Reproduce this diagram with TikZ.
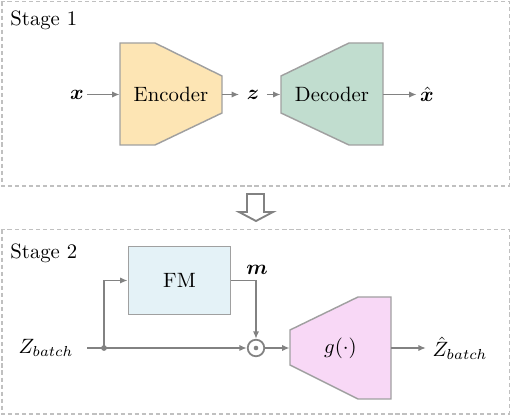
\documentclass[tikz,border=0pt]{standalone}
\usepackage{amsmath}
\usepackage{bm}
\usetikzlibrary{arrows.meta}

\definecolor{encfill}{RGB}{253,229,180}
\definecolor{decfill}{RGB}{193,221,207}
\definecolor{gfill}{RGB}{248,216,246}
\definecolor{fmfill}{RGB}{228,242,247}
\definecolor{edgegray}{RGB}{160,160,160}
\definecolor{wiregray}{RGB}{130,130,130}
\definecolor{dashgray}{RGB}{192,192,192}

\tikzset{
  wire/.style={draw=wiregray, line width=0.85pt},
  wirearrow/.style={wire, -{Latex[length=3.6pt,width=3pt]}},
  netshape/.style={draw=edgegray, line width=0.7pt},
  stagebox/.style={draw=dashgray, line width=0.6pt, dash pattern=on 2pt off 1.4pt},
  var/.style={inner sep=1.5pt},
  area/.style={inner sep=0pt, minimum width=49.2pt, minimum height=49.2pt}
}

\begin{document}
\begin{tikzpicture}[x=0.4824pt,y=0.4824pt,yscale=-1,xscale=1]
\useasboundingbox (0,0) rectangle (512,418);

%Shape: Stage boxes
\draw [stagebox] (2,1.5) rectangle (509.5,186);
\draw [stagebox] (2,229.5) rectangle (509.5,414);

% Text Node
\draw (10,26) node [anchor=base west, inner sep=0pt] {Stage 1};
% Text Node
\draw (10,258.5) node [anchor=base west, inner sep=0pt] {Stage 2};

%Shape: Encoder
\draw [netshape, fill=encfill] (120,43) -- (155,43) -- (222,76) -- (222,113) -- (155,145) -- (120,145) -- cycle;
%Shape: Decoder
\draw [netshape, fill=decfill] (281,76) -- (349,43) -- (383,43) -- (383,145) -- (349,145) -- (281,113) -- cycle;
%Shape: g
\draw [netshape, fill=gfill] (290,330) -- (358,297) -- (391,297) -- (391,399) -- (358,399) -- (290,365) -- cycle;

% Stage 1 nodes
\node [var] (x) at (77,94.5) {$\bm{x}$};
\node [area] (enc) at (171,94.5) {Encoder};
\node [inner sep=3.5pt] (z) at (253,94.5) {$\bm{z}$};
\node [area] (dec) at (332,94.5) {Decoder};
\node [var] (xhat) at (427,94.5) {$\hat{\bm{x}}$};

\draw [wirearrow] (x) -- (enc);
\draw [wirearrow] (enc) -- (z);
\draw [wirearrow] (z) -- (dec);
\draw [wirearrow] (dec) -- (xhat);

%Shape: hollow arrow between stages
\draw [draw=wiregray, line width=0.9pt, fill=white] (247,194) -- (264,194) -- (264,212) -- (273,212) -- (256,221) -- (239,212) -- (247,212) -- cycle;

% Stage 2 nodes
\node [inner xsep=6.5pt] (zb) at (46,348) {$Z_{batch}$};
\node [netshape, fill=fmfill, minimum width=49.4pt, minimum height=32.6pt] (fm) at (179.5,280.5) {FM};
\node [circle, wire, minimum size=8pt, inner sep=0pt] (prod) at (256,348) {};
\node [area, minimum width=48.7pt] (g) at (340.5,348) {$g(\cdot)$};
\node [inner xsep=3pt] (zhat) at (460,348) {$\hat{Z}_{batch}$};
\node (m) at (257,270) {$\bm{m}$};
\coordinate (split) at (104,348);

\fill [wiregray] (prod.center) circle (1.1pt);
\fill [wiregray] (split) circle (1.4pt);

\draw [wire] (zb) -- (split);
\draw [wirearrow] (split) -- (prod);
\draw [wirearrow] (split) |- (fm.west);
\draw [wirearrow] (fm.east) -| (prod.north);
\draw [wirearrow] (prod) -- (g);
\draw [wirearrow] (g) -- (zhat);

\end{tikzpicture}
\end{document}
